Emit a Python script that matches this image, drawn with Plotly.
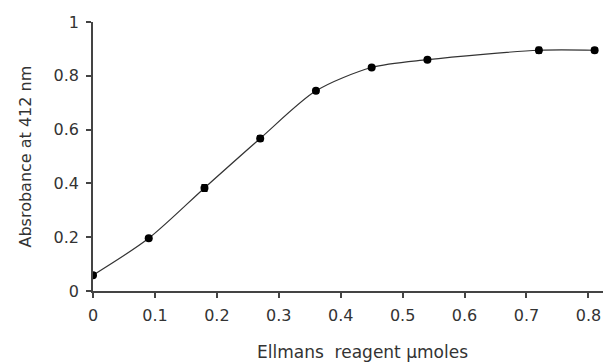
import plotly.graph_objects as go

reagent_umol = [0, 0.09, 0.18, 0.27, 0.36, 0.45, 0.54, 0.72, 0.81]
absorbance = [0.059, 0.196, 0.383, 0.567, 0.744, 0.831, 0.860, 0.895, 0.895]
abs_error = [0.008, 0.006, 0.012, 0.010, 0.008, 0.006, 0.006, 0.010, 0.008]

x_ticks = [0, 0.1, 0.2, 0.3, 0.4, 0.5, 0.6, 0.7, 0.8]
y_ticks = [0, 0.2, 0.4, 0.6, 0.8, 1]

fig = go.Figure()
fig.add_trace(go.Scatter(
    x=reagent_umol, y=absorbance,
    mode="lines+markers",
    line=dict(color="#333333", width=1.2, shape="spline", smoothing=0.8),
    marker=dict(color="black", size=8),
    error_y=dict(type="data", array=abs_error, color="black", thickness=1.5, width=3),
    showlegend=False,
))

font_family = "DejaVu Sans, Verdana, sans-serif"
fig.update_layout(
    width=603, height=354,
    margin=dict(l=85, r=4, t=14, b=71),
    paper_bgcolor="white", plot_bgcolor="white",
    font=dict(family=font_family, size=16, color="#333333"),
    xaxis=dict(
        range=[0, 0.83], tickvals=x_ticks, ticktext=[str(v) for v in x_ticks],
        showgrid=False, zeroline=False, showline=True, linecolor="#444444", linewidth=1.5,
        ticks="outside", ticklen=5, tickcolor="#444444", tickwidth=1.5,
        automargin=False, tickfont=dict(size=16), ticklabelstandoff=4,
    ),
    yaxis=dict(
        range=[0, 1], tickvals=y_ticks, ticktext=[str(v) for v in y_ticks],
        showgrid=False, zeroline=False, showline=True, linecolor="#444444", linewidth=1.5,
        ticks="outside", ticklen=5, tickcolor="#444444", tickwidth=1.5,
        automargin=False, tickfont=dict(size=16), ticklabelstandoff=4,
    ),
    annotations=[
        dict(text="Ellmans  reagent µmoles", xref="paper", yref="paper",
             x=0.5, xshift=12, y=0, yshift=-61, showarrow=False, font=dict(size=17),
             xanchor="center", yanchor="middle"),
        dict(text="Absrobance at 412 nm", xref="paper", yref="paper",
             x=0, xshift=-68, y=0.5, textangle=-90, showarrow=False,
             font=dict(size=16), xanchor="center", yanchor="middle"),
    ],
)

fig.write_html("out.html")
